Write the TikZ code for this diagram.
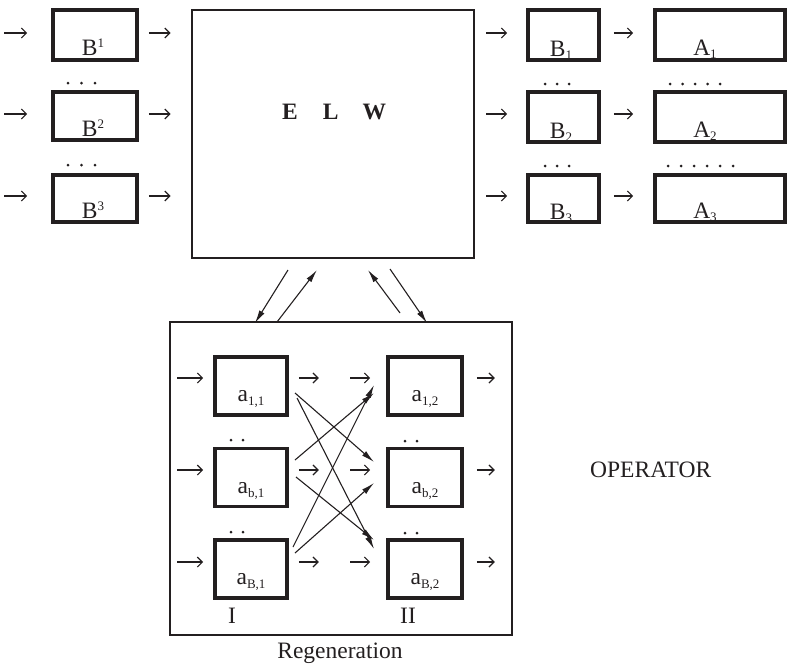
\documentclass[tikz,border=0pt]{standalone}
\usepackage{fontspec}
\setmainfont{Liberation Serif}
\usetikzlibrary{arrows.meta,calc}
\definecolor{ink}{RGB}{35,31,32}
\newcommand{\subx}[2][-3pt]{\raisebox{#1}{\fontsize{13}{13}\selectfont #2}}
\newcommand{\supx}[1]{\raisebox{8pt}{\fontsize{13}{13}\selectfont #1}}
\begin{document}
\begin{tikzpicture}[x=1pt,y=-1pt,
  every node/.style={text=ink},
  font=\fontsize{23.5}{27}\selectfont,
  box/.style={draw=ink, line width=3.6pt, inner sep=0pt},
  bigbox/.style={draw=ink, line width=2.8pt, inner sep=0pt},
  tarr/.style={draw=ink, -{Straight Barb[length=5pt,width=10pt]}, line width=1.2pt},
  xarr/.style={draw=ink, -{Latex[length=13pt,width=6pt]}, line width=1.1pt},
  lbl/.style={inner sep=0pt, anchor=base},
  dotf/.style={circle, fill=ink, inner sep=0pt, minimum size=3pt}]
\useasboundingbox (0,0) rectangle (788,664);

% ---------- top left B^k boxes ----------
\node[box, minimum width=84pt, minimum height=50pt] (B1) at (95,35) {};
\node[box, minimum width=84pt, minimum height=48pt] (B2) at (95,116) {};
\node[box, minimum width=84pt, minimum height=47pt] (B3) at (95,198.5) {};
\node[lbl] (tB1) at (93,55) {B\supx{1}};
\node[lbl] (tB2) at (93,136) {B\supx{2}};
\node[lbl] (tB3) at (93,218) {B\supx{3}};

% ---------- ELW box ----------
\node[bigbox, minimum width=282pt, minimum height=248pt] (ELW) at (333,134) {};
\node[inner sep=0pt, anchor=base west] (tELW) at (282,119) {\bfseries E\hspace{25pt}L\hspace{24pt}W};

% ---------- right B_k and A_k boxes ----------
\node[box, minimum width=71pt, minimum height=50pt] (C1) at (563.5,35) {};
\node[box, minimum width=71pt, minimum height=50pt] (C2) at (563.5,117) {};
\node[box, minimum width=71pt, minimum height=47pt] (C3) at (563.5,198.5) {};
\node[lbl] (tC1) at (561,56) {B\subx{1}};
\node[lbl] (tC2) at (561,138) {B\subx{2}};
\node[lbl] (tC3) at (561,219) {B\subx{3}};

\node[box, minimum width=130pt, minimum height=50pt] (A1) at (720,35) {};
\node[box, minimum width=130pt, minimum height=50pt] (A2) at (720,117) {};
\node[box, minimum width=130pt, minimum height=47pt] (A3) at (720,198.5) {};
\node[lbl] (tA1) at (705,55) {A\subx{1}};
\node[lbl] (tA2) at (705,137) {A\subx{2}};
\node[lbl] (tA3) at (705,218) {A\subx{3}};

% top arrows
\foreach \r/\yy in {1/33,2/114,3/196}{
  \draw[tarr] ([xshift=-47pt]B\r.west |- 0,\yy) -- ([xshift=-24pt]B\r.west |- 0,\yy);
  \draw[tarr] ([xshift=10pt]B\r.east |- 0,\yy) -- ([xshift=-20pt]ELW.west |- 0,\yy);
  \draw[tarr] ([xshift=11pt]ELW.east |- 0,\yy) -- ([xshift=-19pt]C\r.west |- 0,\yy);
  \draw[tarr] ([xshift=13pt]C\r.east |- 0,\yy) -- ([xshift=-20pt]A\r.west |- 0,\yy);
}

% dots top
\foreach \xx in {68,81.5,95}{
  \node[dotf] at (\xx,83) {};
  \node[dotf] at (\xx,165) {};
}
\foreach \xx in {545,557,569}{
  \node[dotf] at (\xx,84) {};
  \node[dotf] at (\xx,166) {};
}
\foreach \xx in {670,682.5,695,707.5,720}{
  \node[dotf] at (\xx,84) {};
}
\foreach \xx in {668,681,694,707,720,733}{
  \node[dotf] at (\xx,166) {};
}

% ---------- Regeneration box ----------
\node[bigbox, minimum width=342pt, minimum height=313pt] (R) at (341,478.5) {};

% double arrows between ELW and regeneration box
\coordinate (d1s) at (288,270);
\coordinate (d1e) at (255,323);
\coordinate (d2s) at (277,322);
\coordinate (d2e) at (317,270);
\coordinate (d3s) at (400,313);
\coordinate (d3e) at (368,270);
\coordinate (d4s) at (390,269);
\coordinate (d4e) at (427,323);
\draw[xarr] (d1s) -- (d1e);
\draw[xarr] (d2s) -- (d2e);
\draw[xarr] (d3s) -- (d3e);
\draw[xarr] (d4s) -- (d4e);

% inner boxes
\foreach \r/\yy/\hh in {1/386/58,2/477.5/58,3/569/58}{
  \node[box, minimum width=72pt, minimum height=\hh pt] (P\r) at (251,\yy) {};
  \node[box, minimum width=74pt, minimum height=\hh pt] (Q\r) at (425,\yy) {};
}
\node[lbl] (tP1) at (251,401) {a\subx[-4pt]{1,1}};
\node[lbl] (tP2) at (251,493) {a\subx[-4pt]{b,1}};
\node[lbl] (tP3) at (251,584) {a\subx[-4pt]{B,1}};
\node[lbl] (tQ1) at (425,401) {a\subx[-4pt]{1,2}};
\node[lbl] (tQ2) at (425,493) {a\subx[-4pt]{b,2}};
\node[lbl] (tQ3) at (425,584) {a\subx[-4pt]{B,2}};

% inner straight arrows
\foreach \r/\yy in {1/378,2/470,3/562}{
  \draw[tarr] ([xshift=-36pt]P\r.west |- 0,\yy) -- ([xshift=-10pt]P\r.west |- 0,\yy);
  \draw[tarr] ([xshift=10pt]P\r.east |- 0,\yy) -- ([xshift=30pt]P\r.east |- 0,\yy);
  \draw[tarr] ([xshift=-36pt]Q\r.west |- 0,\yy) -- ([xshift=-16pt]Q\r.west |- 0,\yy);
  \draw[tarr] ([xshift=13pt]Q\r.east |- 0,\yy) -- ([xshift=31pt]Q\r.east |- 0,\yy);
}

% cross arrows
\coordinate (s11) at (295,393);
\coordinate (s12) at (297,398);
\coordinate (s21) at (295,460);
\coordinate (s22) at (296,477);
\coordinate (s31) at (293,547);
\coordinate (s32) at (295,553);
\coordinate (e11) at (374,385);
\coordinate (e12) at (374,393);
\coordinate (e21) at (374,462);
\coordinate (e22) at (374,483);
\coordinate (e31) at (374,540);
\coordinate (e32) at (374,549);
\draw[xarr] (s11) -- (e21);
\draw[xarr] (s12) -- (e32);
\draw[xarr] (s21) -- (e12);
\draw[xarr] (s22) -- (e31);
\draw[xarr] (s31) -- (e11);
\draw[xarr] (s32) -- (e22);

% inner dots
\foreach \xx in {231,243}{
  \node[dotf] at (\xx,440) {};
  \node[dotf] at (\xx,532) {};
}
\foreach \xx in {405,417}{
  \node[dotf] at (\xx,441) {};
  \node[dotf] at (\xx,533) {};
}

% labels
\node[lbl] (tI) at (232,623) {I};
\node[lbl] (tII) at (408,623) {II};
\node[lbl] (tReg) at (340,658) {Regeneration};
\node[inner sep=0pt, anchor=base west] (tOp) at (590,477) {OPERATOR};
\end{tikzpicture}
\end{document}
